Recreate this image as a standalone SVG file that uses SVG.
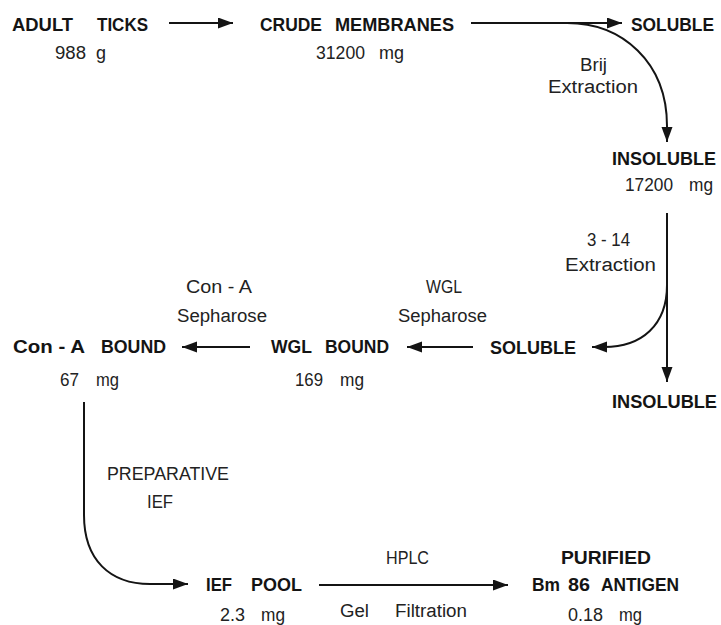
<svg xmlns="http://www.w3.org/2000/svg" width="721" height="625" viewBox="0 0 721 625">
<style>
.b{font-family:"Liberation Sans",Arial,sans-serif;font-weight:bold;font-size:18px;fill:#141414}
.r{font-family:"Liberation Sans",Arial,sans-serif;font-size:18px;fill:#222}
.c{fill:none;stroke:#141414;stroke-width:2}
</style>
<defs>
<marker id="ah" markerUnits="userSpaceOnUse" markerWidth="16" markerHeight="12" refX="15" refY="5.5" orient="auto">
<path d="M0,0 L15,5.5 L0,11 z" fill="#141414"/>
</marker>
</defs>
<rect width="721" height="625" fill="#fff"/>
<g id="adult-ticks">
<text class="b" x="12" y="31" textLength="61" lengthAdjust="spacingAndGlyphs">ADULT</text>
<text class="b" x="97" y="31" textLength="51" lengthAdjust="spacingAndGlyphs">TICKS</text>
<text class="r" x="55" y="59" textLength="31" lengthAdjust="spacingAndGlyphs">988</text>
<text class="r" x="96" y="59" textLength="10" lengthAdjust="spacingAndGlyphs">g</text>
</g>
<g id="crude-membranes">
<text class="b" x="260" y="31" textLength="62" lengthAdjust="spacingAndGlyphs">CRUDE</text>
<text class="b" x="335" y="31" textLength="119" lengthAdjust="spacingAndGlyphs">MEMBRANES</text>
<text class="r" x="316" y="59" textLength="49" lengthAdjust="spacingAndGlyphs">31200</text>
<text class="r" x="379" y="59" textLength="25" lengthAdjust="spacingAndGlyphs">mg</text>
</g>
<g id="soluble-1">
<text class="b" x="631" y="31" textLength="83" lengthAdjust="spacingAndGlyphs">SOLUBLE</text>
</g>
<g id="insoluble-1">
<text class="b" x="612" y="165" textLength="104" lengthAdjust="spacingAndGlyphs">INSOLUBLE</text>
<text class="r" x="625" y="191" textLength="48" lengthAdjust="spacingAndGlyphs">17200</text>
<text class="r" x="689" y="191" textLength="24" lengthAdjust="spacingAndGlyphs">mg</text>
</g>
<g id="soluble-2">
<text class="b" x="490" y="354" textLength="86" lengthAdjust="spacingAndGlyphs">SOLUBLE</text>
</g>
<g id="insoluble-2">
<text class="b" x="612" y="408" textLength="105" lengthAdjust="spacingAndGlyphs">INSOLUBLE</text>
</g>
<g id="wgl-bound">
<text class="b" x="271" y="353" textLength="41" lengthAdjust="spacingAndGlyphs">WGL</text>
<text class="b" x="325" y="353" textLength="64" lengthAdjust="spacingAndGlyphs">BOUND</text>
<text class="r" x="295" y="386" textLength="28" lengthAdjust="spacingAndGlyphs">169</text>
<text class="r" x="340" y="386" textLength="24" lengthAdjust="spacingAndGlyphs">mg</text>
</g>
<g id="con-a-bound">
<text class="b" x="13" y="353" textLength="72" lengthAdjust="spacingAndGlyphs">Con - A</text>
<text class="b" x="101" y="353" textLength="65" lengthAdjust="spacingAndGlyphs">BOUND</text>
<text class="r" x="60" y="386" textLength="19" lengthAdjust="spacingAndGlyphs">67</text>
<text class="r" x="96" y="386" textLength="23" lengthAdjust="spacingAndGlyphs">mg</text>
</g>
<g id="ief-pool">
<text class="b" x="206" y="591" textLength="26" lengthAdjust="spacingAndGlyphs">IEF</text>
<text class="b" x="251" y="591" textLength="51" lengthAdjust="spacingAndGlyphs">POOL</text>
<text class="r" x="220" y="621" textLength="25" lengthAdjust="spacingAndGlyphs">2.3</text>
<text class="r" x="261" y="621" textLength="24" lengthAdjust="spacingAndGlyphs">mg</text>
</g>
<g id="purified">
<text class="b" x="561" y="564" textLength="90" lengthAdjust="spacingAndGlyphs">PURIFIED</text>
<text class="b" x="532" y="591" textLength="28" lengthAdjust="spacingAndGlyphs">Bm</text>
<text class="b" x="568" y="591" textLength="22" lengthAdjust="spacingAndGlyphs">86</text>
<text class="b" x="601" y="591" textLength="78" lengthAdjust="spacingAndGlyphs">ANTIGEN</text>
<text class="r" x="568" y="621" textLength="35" lengthAdjust="spacingAndGlyphs">0.18</text>
<text class="r" x="619" y="621" textLength="23" lengthAdjust="spacingAndGlyphs">mg</text>
</g>
<g id="connectors">
<line class="c" x1="169" y1="23" x2="233" y2="23" marker-end="url(#ah)"/>
<line class="c" x1="471" y1="23" x2="622" y2="23" marker-end="url(#ah)"/>
<path class="c" d="M567,23 C622,23 667,62 667,126 L667,142" marker-end="url(#ah)"/>
<line class="c" x1="667" y1="213" x2="667" y2="382" marker-end="url(#ah)"/>
<path class="c" d="M667,285 C667,325 642,347 604,347 L592,347" marker-end="url(#ah)"/>
<line class="c" x1="473" y1="347" x2="407" y2="347" marker-end="url(#ah)"/>
<line class="c" x1="250" y1="347" x2="182" y2="347" marker-end="url(#ah)"/>
<path class="c" d="M84,402 L84,515 C84,560 110,584 150,584 L188,584" marker-end="url(#ah)"/>
<line class="c" x1="319" y1="585" x2="508" y2="585" marker-end="url(#ah)"/>
</g>
<g id="edge-labels">
<text class="r" x="580" y="71" textLength="27" lengthAdjust="spacingAndGlyphs">Brij</text>
<text class="r" x="548" y="93" textLength="90" lengthAdjust="spacingAndGlyphs">Extraction</text>
<text class="r" x="587" y="246" textLength="43" lengthAdjust="spacingAndGlyphs">3 - 14</text>
<text class="r" x="565" y="271" textLength="91" lengthAdjust="spacingAndGlyphs">Extraction</text>
<text class="r" x="186" y="293" textLength="66" lengthAdjust="spacingAndGlyphs">Con - A</text>
<text class="r" x="177" y="322" textLength="90" lengthAdjust="spacingAndGlyphs">Sepharose</text>
<text class="r" x="426" y="293" textLength="36" lengthAdjust="spacingAndGlyphs">WGL</text>
<text class="r" x="398" y="322" textLength="89" lengthAdjust="spacingAndGlyphs">Sepharose</text>
<text class="r" x="107" y="480" textLength="122" lengthAdjust="spacingAndGlyphs">PREPARATIVE</text>
<text class="r" x="147" y="508" textLength="26" lengthAdjust="spacingAndGlyphs">IEF</text>
<text class="r" x="386" y="564" textLength="43" lengthAdjust="spacingAndGlyphs">HPLC</text>
<text class="r" x="340" y="617" textLength="29" lengthAdjust="spacingAndGlyphs">Gel</text>
<text class="r" x="395" y="617" textLength="72" lengthAdjust="spacingAndGlyphs">Filtration</text>
</g>
</svg>
